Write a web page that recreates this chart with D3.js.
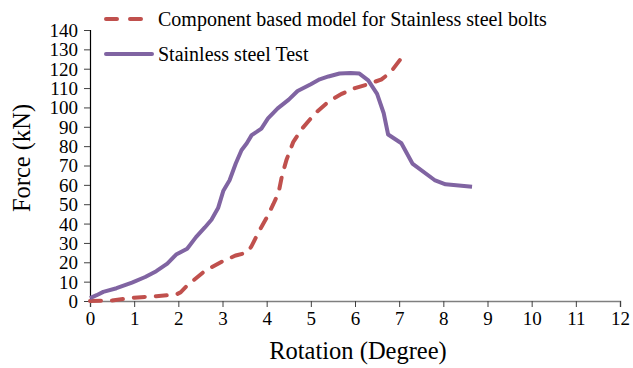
<!DOCTYPE html>
<html>
<head>
<meta charset="utf-8">
<script src="https://cdn.jsdelivr.net/npm/d3@7"></script>
<style>
  body { margin: 0; background: #fff; }
  text { font-family: "Liberation Serif", "Times New Roman", serif; fill: #000; }
</style>
</head>
<body>
<div id="chart-area"></div>
<script>
// component based model (red dashed)
const modelRot = [0, 0.5, 1.0, 1.5, 1.95, 2.05, 2.2, 2.6, 3.0, 3.3, 3.55, 3.65, 3.85, 4.0, 4.15, 4.27, 4.35, 4.45, 4.6, 4.8, 5.1, 5.4, 5.7, 6.0, 6.3, 6.6, 6.8, 7.1];
const modelForce = [0, 0.3, 1.7, 2.5, 3.3, 4.5, 8, 15.5, 20.5, 23.5, 25, 28, 37, 43, 50, 56, 65, 73, 82, 89, 97, 103, 107, 110, 112, 114.5, 118, 127];

// test (purple)
const testRot = [0, 0.15, 0.3, 0.6, 0.95, 1.25, 1.5, 1.75, 1.95, 2.2, 2.4, 2.6, 2.75, 2.9, 3.02, 3.16, 3.3, 3.43, 3.55, 3.66, 3.78, 3.88, 4.03, 4.25, 4.5, 4.7, 5.0, 5.2, 5.4, 5.65, 5.9, 6.1, 6.3, 6.5, 6.65, 6.75, 7.05, 7.3, 7.8, 8.05, 8.65];
const testForce = [1.5, 3, 4.7, 6.6, 9.5, 12.4, 15.4, 19.3, 24, 27, 33, 38, 42, 48, 57, 62.4, 71, 77.9, 81.5, 85.7, 87.5, 89.1, 94.3, 99.5, 104, 108.5, 112, 114.5, 116, 117.5, 117.8, 117.5, 114, 107, 97, 86, 81.5, 71, 62.5, 60.3, 59];

const xTicks = d3.range(0, 13, 1);
const yTicks = d3.range(0, 141, 10);

const seriesNames = ['Component based model for Stainless steel bolts', 'Stainless steel Test'];

const W = 633, H = 368;
const margin = {left: 90, right: 13, top: 30, bottom: 67};

const svg = d3.select('#chart-area')
    .append('svg')
        .attr('width', W)
        .attr('height', H);

const x = d3.scaleLinear()
    .domain([0, 12])
    .range([margin.left, W - margin.right]);

const y = d3.scaleLinear()
    .domain([0, 140])
    .range([H - margin.bottom, margin.top]);

// X axis
const xAxis = svg.append('g')
    .attr('transform', `translate(0, ${y(0)})`)
    .call(d3.axisBottom(x).tickValues(xTicks).tickSize(6).tickPadding(5).tickFormat(d3.format('d')));
xAxis.select('.domain').attr('stroke', '#7f7f7f').attr('stroke-width', 1.5);
xAxis.selectAll('.tick line').attr('stroke', '#404040');
xAxis.selectAll('text').attr('font-size', '19px');

// Y axis
const yAxis = svg.append('g')
    .attr('transform', `translate(${x(0)}, 0)`)
    .call(d3.axisLeft(y).tickValues(yTicks).tickSize(6).tickPadding(6).tickFormat(d3.format('d')));
yAxis.select('.domain').attr('stroke', '#000').attr('stroke-width', 1.2);
yAxis.selectAll('.tick line').attr('stroke', '#404040');
yAxis.selectAll('text').attr('font-size', '19px').attr('dy', '0.34em');

// lines
const line = d3.line()
    .x(d => x(d[0]))
    .y(d => y(d[1]));

const modelData = modelRot.map((r, i) => [r, modelForce[i]]);
const testData = testRot.map((r, i) => [r, testForce[i]]);

svg.append('path')
    .datum(modelData)
    .attr('d', line)
    .attr('fill', 'none')
    .attr('stroke', '#C0504D')
    .attr('stroke-width', 4)
    .attr('stroke-dasharray', '11,11')
    .attr('stroke-linecap', 'round');

svg.append('path')
    .datum(testData)
    .attr('d', line)
    .attr('fill', 'none')
    .attr('stroke', '#8064A2')
    .attr('stroke-width', 4)
    .attr('stroke-linejoin', 'round');

// legend
const legend = svg.append('g');
legend.append('line')
    .attr('x1', 106).attr('x2', 150).attr('y1', 19).attr('y2', 19)
    .attr('stroke', '#C0504D')
    .attr('stroke-width', 4)
    .attr('stroke-dasharray', '11,13')
    .attr('stroke-linecap', 'round');
legend.append('text')
    .attr('x', 158).attr('y', 26)
    .attr('font-size', '20px')
    .text(seriesNames[0]);

legend.append('line')
    .attr('x1', 106).attr('x2', 152).attr('y1', 54).attr('y2', 54)
    .attr('stroke', '#8064A2')
    .attr('stroke-width', 4)
    .attr('stroke-linecap', 'round');
legend.append('text')
    .attr('x', 158).attr('y', 61)
    .attr('font-size', '20px')
    .text(seriesNames[1]);

// X Label
svg.append('text')
    .attr('x', 358)
    .attr('y', 359)
    .attr('font-size', '24.5px')
    .attr('text-anchor', 'middle')
    .text('Rotation (Degree)');

// Y Label
svg.append('text')
    .attr('x', -158)
    .attr('y', 30)
    .attr('font-size', '24.5px')
    .attr('text-anchor', 'middle')
    .attr('transform', 'rotate(-90)')
    .text('Force (kN)');
</script>
</body>
</html>
